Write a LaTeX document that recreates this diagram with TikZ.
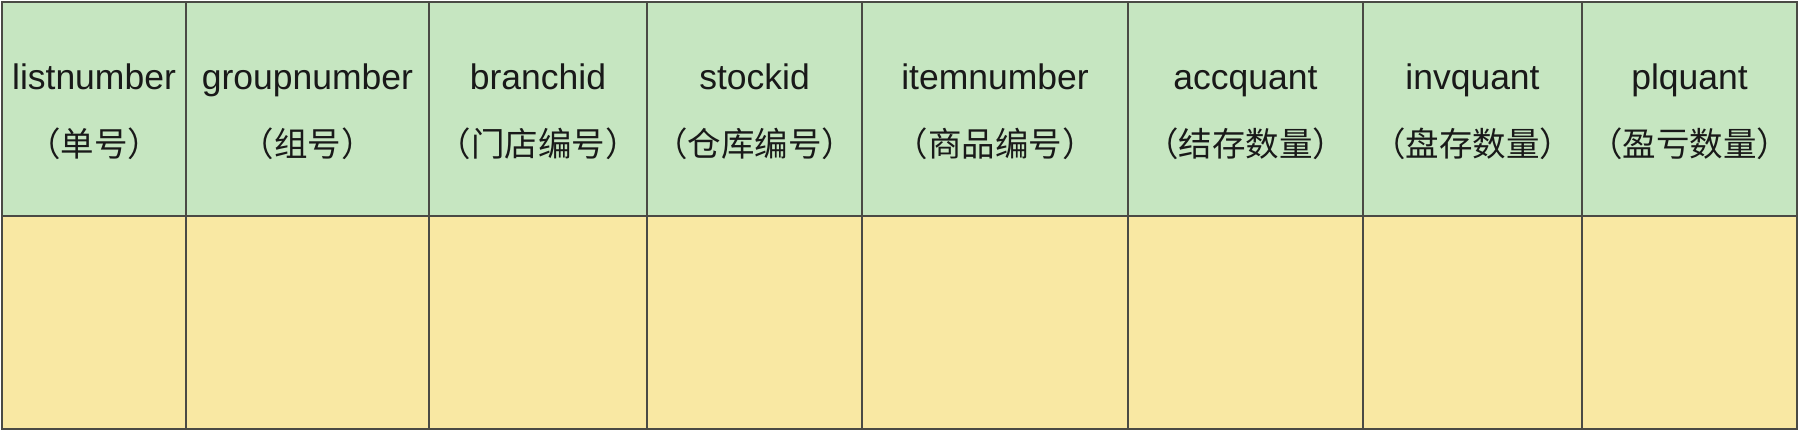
\documentclass[tikz,border=0pt]{standalone}
\usepackage{fontspec}
\setmainfont{Liberation Sans}
\newfontfamily\cjk{Noto Sans CJK SC}
\definecolor{hdrfill}{HTML}{C6E6C1}
\definecolor{bdyfill}{HTML}{F9E8A3}
\definecolor{gridcol}{HTML}{4A4A45}
\tikzset{
  hcell/.style={rectangle, fill=hdrfill, inner sep=0pt, outer sep=0pt, anchor=north west},
  bcell/.style={rectangle, fill=bdyfill, inner sep=0pt, outer sep=0pt, anchor=north west},
  gridline/.style={draw=gridcol, line width=0.6pt},
  entext/.style={inner sep=0pt, anchor=base, font=\fontsize{17.75pt}{20pt}\selectfont, text=black!90},
  zhtext/.style={inner sep=0pt, anchor=base, font=\cjk\fontsize{16.75pt}{20pt}\selectfont, text=black!90}
}
\begin{document}
\begin{tikzpicture}[x=0.5pt,y=-0.5pt]
\useasboundingbox (0,0) rectangle (1800,430);
\foreach \i/\a/\b/\en/\zh in {
  1/2/186/listnumber/（单号）,
  2/186/429/groupnumber/（组号）,
  3/429/647/branchid/（门店编号）,
  4/647/862/stockid/（仓库编号）,
  5/862/1128/itemnumber/（商品编号）,
  6/1128/1363/accquant/（结存数量）,
  7/1363/1582/invquant/（盘存数量）,
  8/1582/1797/plquant/（盈亏数量）}{
  \pgfmathsetmacro\w{(\b-\a)*0.5}
  \pgfmathsetmacro\c{(\a+\b)/2}
  \node[hcell, minimum width=\w pt, minimum height=107pt] (h\i) at (\a,2) {};
  \node[bcell, minimum width=\w pt, minimum height=106.5pt] (b\i) at (\a,216) {};
  \node[entext] (e\i) at (\c,89.5) {\en};
  \node[zhtext] (z\i) at (\c,156.5) {\zh};
}
\foreach \i in {1,...,8}{
  \draw[gridline] (h\i.north west) rectangle (h\i.south east);
  \draw[gridline] (b\i.north west) rectangle (b\i.south east);
}
\end{tikzpicture}
\end{document}
